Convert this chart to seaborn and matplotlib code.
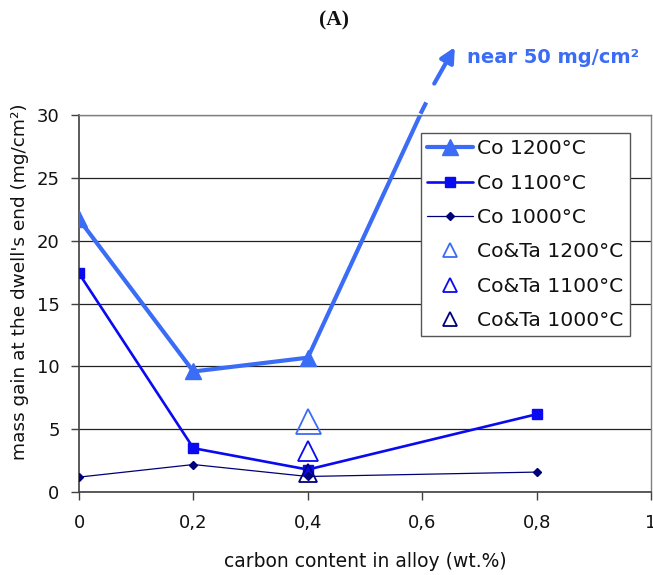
import matplotlib
matplotlib.use("Agg")
import matplotlib.pyplot as plt
import seaborn as sns
import pandas as pd

# ---- data ----
carbon = [0.0, 0.2, 0.4, 0.8]
co_1200 = [21.7, 9.6, 10.7, 50.0]
co_1100 = [17.4, 3.5, 1.8, 6.2]
co_1000 = [1.2, 2.2, 1.25, 1.6]
cota_x = [0.4]
cota_1200 = [5.7]
cota_1100 = [3.3]
cota_1000 = [1.5]
xticks = [0, 0.2, 0.4, 0.6, 0.8, 1.0]
xticklabels = ["0", "0,2", "0,4", "0,6", "0,8", "1"]
yticks = [0, 5, 10, 15, 20, 25, 30]

sns.set_style("white")
plt.rcParams['font.family'] = ['DejaVu Sans']
plt.rcParams['text.color'] = '#111111'
plt.rcParams['axes.labelcolor'] = '#111111'
plt.rcParams['xtick.labelcolor'] = '#111111'
plt.rcParams['ytick.labelcolor'] = '#111111'

c1200 = "#3b6cf6"
c1100 = "#0a0af0"
c1000 = "#00007a"

fig = plt.figure(figsize=(6.53, 5.75), dpi=100)
ax = fig.add_axes([0.121, 0.144, 0.876, 0.656])

df = pd.DataFrame({"x": carbon, "c1200": co_1200, "c1100": co_1100, "c1000": co_1000})
dct = pd.DataFrame({"x": cota_x, "t1200": cota_1200, "t1100": cota_1100, "t1000": cota_1000})

sns.lineplot(data=df, x="x", y="c1200", ax=ax, color=c1200, linewidth=3.0,
             marker="^", markersize=11, markeredgecolor=c1200, markerfacecolor=c1200,
             markeredgewidth=1, label="Co 1200°C", zorder=3)
sns.lineplot(data=df, x="x", y="c1100", ax=ax, color=c1100, linewidth=1.9,
             marker="s", markersize=6.5, markeredgecolor=c1100, markerfacecolor=c1100,
             markeredgewidth=1, label="Co 1100°C", zorder=3)
sns.lineplot(data=df, x="x", y="c1000", ax=ax, color=c1000, linewidth=0.9,
             marker="D", markersize=4, markeredgecolor=c1000, markerfacecolor=c1000,
             markeredgewidth=1, label="Co 1000°C", zorder=3)
for col, c, ms, lab in [("t1200", c1200, 18, "Co&Ta 1200°C"),
                        ("t1100", c1100, 15, "Co&Ta 1100°C"),
                        ("t1000", c1000, 13, "Co&Ta 1000°C")]:
    sns.lineplot(data=dct, x="x", y=col, ax=ax, color=c, linestyle="",
                 marker="^", markersize=ms, markerfacecolor="none",
                 markeredgecolor=c, markeredgewidth=1.3, label=lab, zorder=4)

ax.set_xlim(0, 1)
ax.set_ylim(0, 30)
ax.set_xticks(xticks)
ax.set_xticklabels(xticklabels)
ax.set_yticks(yticks)
ax.tick_params(axis="both", direction="out", length=6, width=1, color="#404040",
               labelsize=13, left=True, bottom=True)
ax.tick_params(axis="x", pad=10)
ax.tick_params(axis="y", pad=8)
ax.yaxis.grid(True, color="#222222", linewidth=0.9)
ax.xaxis.grid(False)
ax.set_axisbelow(True)
for s in ["left", "bottom"]:
    ax.spines[s].set_color("#404040")
    ax.spines[s].set_linewidth(1.2)
for s in ["top", "right"]:
    ax.spines[s].set_color("#808080")
    ax.spines[s].set_linewidth(1.0)

ax.set_xlabel("carbon content in alloy (wt.%)", fontsize=13.5, va="top")
ax.set_ylabel("mass gain at the dwell's end (mg/cm²)", fontsize=13.3, va="center")
ax.xaxis.set_label_coords(0.5, -0.159)
ax.yaxis.set_label_coords(-0.103, 0.557)

leg = ax.legend(loc="upper right", bbox_to_anchor=(0.963, 0.952), fontsize=14.6,
                frameon=True, fancybox=False, edgecolor="#555555", framealpha=1,
                handlelength=2.3, handletextpad=0.2, labelspacing=0.76,
                borderpad=0.3, borderaxespad=0)
leg.get_frame().set_linewidth(1.0)
for h in leg.legend_handles[3:]:
    h.set_markersize(10)

# arrow continuation beyond the axes
ax.plot([0.597, 0.607], [30.1, 31.0], color=c1200, linewidth=3.0, clip_on=False,
        solid_capstyle="butt")
ax.annotate("", xy=(0.657, 35.4), xytext=(0.621, 32.5), xycoords="data",
            annotation_clip=False,
            arrowprops=dict(arrowstyle="-|>", color=c1200, lw=3.0,
                            mutation_scale=22, shrinkA=0, shrinkB=0))
ax.text(0.678, 34.6, "near 50 mg/cm²", color=c1200, fontsize=14, fontweight="bold",
        va="center", ha="left", clip_on=False)

fig.text(0.512, 0.964, "(A)", family=["Liberation Serif", "DejaVu Serif"],
         fontweight="bold", fontsize=15.5, ha="center", va="center")

fig.savefig("out.png", dpi=100)
